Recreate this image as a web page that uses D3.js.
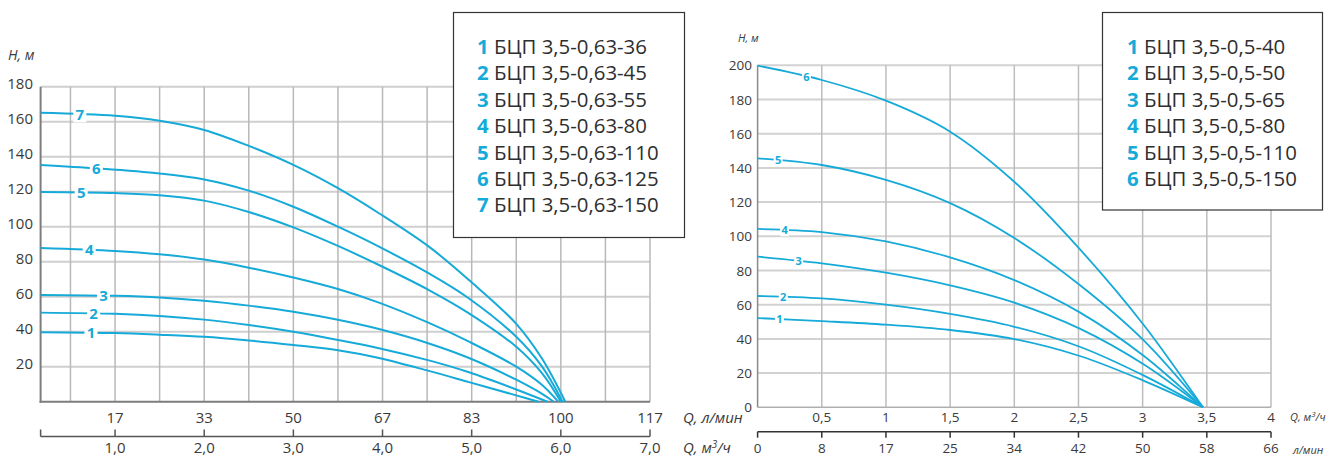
<!DOCTYPE html>
<html><head><meta charset="utf-8">
<script src="https://cdn.jsdelivr.net/npm/d3@7"></script>
<style>body{margin:0;background:#fff} svg{display:block} text{font-family:"Open Sans",sans-serif}</style>
</head><body><svg id="c" width="1335" height="457"></svg>
<script>
// ---------- LEFT CHART DATA ----------
const leftYTicks = [20, 40, 60, 80, 100, 120, 140, 160, 180];
const leftGridQ = [0.5, 1, 1.5, 2, 2.5, 3, 3.5, 4, 4.5, 5, 5.5, 6, 6.5, 7];
const leftMainTicks = [1, 2, 3, 4, 5, 6, 7];
const leftLminLabels = ["17", "33", "50", "67", "83", "100", "117"];
const leftM3Labels = ["1,0", "2,0", "3,0", "4,0", "5,0", "6,0", "7,0"];
const leftCurveNames = ["1", "2", "3", "4", "5", "6", "7"];
const leftLegendText = ["БЦП 3,5-0,63-36", "БЦП 3,5-0,63-45", "БЦП 3,5-0,63-55", "БЦП 3,5-0,63-80", "БЦП 3,5-0,63-110", "БЦП 3,5-0,63-125", "БЦП 3,5-0,63-150"];
const leftCurve1 = [[0.165,39.7],[1.0,39.2],[1.5,38.3],[2.0,37.1],[2.5,35],[3.0,32.4],[3.5,29.4],[3.96,25],[4.52,17.6],[4.97,11.2],[5.5,3.6],[5.75,0]];
const leftCurve2 = [[0.165,50.9],[1.0,50.2],[1.5,49],[2.0,46.9],[2.5,43.8],[3.0,40],[3.5,35.3],[3.96,30.6],[4.52,23.6],[4.97,16.8],[5.5,7],[5.85,0]];
const leftCurve3 = [[0.165,61],[1.0,60.5],[1.5,59.6],[2.0,57.7],[2.5,54.9],[3.0,51.4],[3.5,46.8],[3.96,41.5],[4.52,33.3],[4.97,25],[5.5,12.6],[5.79,4.5],[5.92,0]];
const leftCurve4 = [[0.165,87.8],[1.0,86.1],[1.5,84.2],[2.0,81.2],[2.5,76.6],[3.0,71],[3.5,64.4],[3.96,56.6],[4.52,45],[4.97,34.3],[5.5,20],[5.79,9.5],[5.97,0]];
const leftCurve5 = [[0.165,119.8],[1.0,119.2],[1.5,118],[2.0,114.9],[2.5,108.4],[3.0,99.6],[3.5,89],[3.96,78.1],[4.52,63.8],[4.97,50.5],[5.5,31.4],[5.79,16.2],[6.0,0]];
const leftCurve6 = [[0.165,135.3],[0.8,133.3],[1.5,130.4],[2.0,127],[2.5,120.6],[3.0,111.4],[3.5,100],[3.96,88.6],[4.52,73.3],[4.97,59],[5.5,37.1],[5.79,20],[6.02,0]];
const leftCurve7 = [[0.165,165.1],[1.0,163.4],[1.5,160.6],[2.0,155.3],[2.5,146.2],[3.0,135.3],[3.5,122],[3.96,107.7],[4.52,88.6],[4.97,69.5],[5.5,44.5],[5.79,24.5],[6.05,0]];
const leftCurves = [leftCurve1, leftCurve2, leftCurve3, leftCurve4, leftCurve5, leftCurve6, leftCurve7];
const leftLabelQ = [0.73, 0.76, 0.87, 0.71, 0.62, 0.79, 0.605];

// ---------- RIGHT CHART DATA ----------
const rightYTicks = [0, 20, 40, 60, 80, 100, 120, 140, 160, 180, 200];
const rightGridQ = [0.5, 1, 1.5, 2, 2.5, 3, 3.5, 4];
const rightTopLabels = ["0,5", "1", "1,5", "2", "2,5", "3", "3,5", "4"];
const rightBottomTicks = [0, 0.5, 1, 1.5, 2, 2.5, 3, 3.5, 4];
const rightLminLabels = ["0", "8", "17", "25", "34", "42", "50", "58", "66"];
const rightCurveNames = ["1", "2", "3", "4", "5", "6"];
const rightLegendText = ["БЦП 3,5-0,5-40", "БЦП 3,5-0,5-50", "БЦП 3,5-0,5-65", "БЦП 3,5-0,5-80", "БЦП 3,5-0,5-110", "БЦП 3,5-0,5-150"];
const rightCurve1 = [[0,52.2],[0.5,50.4],[1.0,48.3],[1.5,45.2],[2.0,39.9],[2.51,30],[3.01,15.5],[3.47,0]];
const rightCurve2 = [[0,65.1],[0.5,63.7],[1.0,60],[1.5,54.6],[2.0,47.1],[2.51,35.4],[3.01,18.5],[3.47,0]];
const rightCurve3 = [[0,88.1],[0.5,84.2],[1.0,78.7],[1.5,71.3],[2.0,61.2],[2.51,46],[3.01,25],[3.47,0]];
const rightCurve4 = [[0,104.3],[0.5,102.5],[1.0,97],[1.5,87.7],[2.0,74.4],[2.51,55.5],[3.01,30],[3.47,0]];
const rightCurve5 = [[0,145.6],[0.5,141.7],[1.0,133],[1.5,119.4],[2.0,99],[2.51,71.5],[3.01,39],[3.47,0]];
const rightCurve6 = [[0,199.8],[0.5,191.4],[1.0,179.3],[1.5,161.2],[2.0,131.9],[2.51,92.5],[3.01,48],[3.47,0]];
const rightCurves = [rightCurve1, rightCurve2, rightCurve3, rightCurve4, rightCurve5, rightCurve6];
const rightLabelQ = [0.17, 0.2, 0.32, 0.21, 0.16, 0.38];

// ---------- STYLE ----------
const CURVE = "#16aad8";
const TXT = "#3a3a3a";
const svg = d3.select("#c");

function hAt(curve, q) {
  for (let i = 0; i < curve.length - 1; i++) {
    const [q0, h0] = curve[i], [q1, h1] = curve[i + 1];
    if (q >= q0 && q <= q1) return h0 + (h1 - h0) * (q - q0) / (q1 - q0);
  }
  return curve[curve.length - 1][1];
}

// ================= LEFT =================
{
  const x = d3.scaleLinear().domain([0.165, 7]).range([40.6, 650]);
  const y = d3.scaleLinear().domain([0, 180]).range([401.7, 86.7]);
  const g = svg.append("g");
  g.selectAll(".hg").data(leftYTicks).join("line")
    .attr("x1", x(0.165)).attr("x2", x(7)).attr("y1", d => y(d)).attr("y2", d => y(d))
    .attr("stroke", "#cfcfcf").attr("stroke-width", 2);
  g.selectAll(".vg").data(leftGridQ).join("line")
    .attr("x1", d => x(d)).attr("x2", d => x(d)).attr("y1", y(0)).attr("y2", y(180))
    .attr("stroke", "#b8b8b8").attr("stroke-width", 1.5);
  g.append("line").attr("x1", x(0.165)).attr("x2", x(0.165)).attr("y1", y(180)).attr("y2", y(0) + 1)
    .attr("stroke", "#7d7d7d").attr("stroke-width", 2);
  g.append("line").attr("x1", x(0.165) - 1).attr("x2", x(7)).attr("y1", y(0)).attr("y2", y(0))
    .attr("stroke", "#7d7d7d").attr("stroke-width", 2);
  g.selectAll(".yl").data(leftYTicks).join("text")
    .attr("x", 33).attr("y", d => y(d) + 2).attr("text-anchor", "end")
    .attr("font-size", 15).attr("fill", TXT).text(d => d);
  g.append("text").attr("x", 8).attr("y", 60).attr("font-size", 14).attr("font-style", "italic")
    .attr("fill", TXT).text("H, м");
  g.selectAll(".xl").data(leftMainTicks).join("text")
    .attr("x", d => x(d)).attr("y", 423).attr("text-anchor", "middle")
    .attr("font-size", 15).attr("fill", TXT).text((d, i) => leftLminLabels[i]);
  g.append("text").attr("x", 683).attr("y", 423).attr("font-size", 15).attr("font-style", "italic")
    .attr("fill", TXT).text("Q, л/мин");
  const ay = 436.5;
  g.append("line").attr("x1", x(0.165)).attr("x2", x(7)).attr("y1", ay).attr("y2", ay)
    .attr("stroke", "#555").attr("stroke-width", 1.5);
  g.selectAll(".t2").data([0.165].concat(leftMainTicks)).join("line")
    .attr("x1", d => x(d)).attr("x2", d => x(d)).attr("y1", ay - 7).attr("y2", ay)
    .attr("stroke", "#555").attr("stroke-width", 1.5);
  g.selectAll(".xl2").data(leftMainTicks).join("text")
    .attr("x", d => x(d)).attr("y", 452.5).attr("text-anchor", "middle")
    .attr("font-size", 15).attr("fill", TXT).text((d, i) => leftM3Labels[i]);
  const tq = g.append("text").attr("x", 683).attr("y", 452.5).attr("font-size", 15).attr("font-style", "italic").attr("fill", TXT);
  tq.append("tspan").text("Q, м");
  tq.append("tspan").attr("dy", -5).attr("font-size", 10).text("3");
  tq.append("tspan").attr("dy", 5).text("/ч");
  const line = d3.line().x(d => x(d[0])).y(d => y(d[1])).curve(d3.curveCatmullRom.alpha(0.5));
  g.selectAll(".cv").data(leftCurves).join("path")
    .attr("d", line).attr("fill", "none").attr("stroke", CURVE).attr("stroke-width", 2);
  leftCurves.forEach((c, i) => {
    const q = leftLabelQ[i], cx = x(q), cy = y(hAt(c, q));
    g.append("rect").attr("x", cx - 6.5).attr("y", cy - 8).attr("width", 13).attr("height", 16).attr("fill", "#fff");
    g.append("text").attr("x", cx).attr("y", cy + 5.5).attr("text-anchor", "middle")
      .attr("font-size", 15).attr("font-weight", "bold").attr("fill", CURVE).text(leftCurveNames[i]);
  });
  g.append("rect").attr("x", 453.5).attr("y", 12.5).attr("width", 231).attr("height", 225)
    .attr("fill", "#fff").attr("stroke", "#333").attr("stroke-width", 1.2);
  leftLegendText.forEach((t, i) => {
    const yy = 54 + i * 26.4;
    g.append("text").attr("x", 477).attr("y", yy).attr("font-size", 20.4).attr("font-weight", "bold")
      .attr("fill", CURVE).text(leftCurveNames[i]);
    g.append("text").attr("x", 494).attr("y", yy).attr("font-size", 20.4).attr("fill", "#2e2e2e").text(t);
  });
}

// ================= RIGHT =================
{
  const x = d3.scaleLinear().domain([0, 4]).range([757.6, 1271]);
  const y = d3.scaleLinear().domain([0, 200]).range([407.3, 65.3]);
  const g = svg.append("g");
  g.selectAll(".hg").data(rightYTicks.filter(d => d > 0)).join("line")
    .attr("x1", x(0)).attr("x2", x(4)).attr("y1", d => y(d)).attr("y2", d => y(d))
    .attr("stroke", "#d2d2d2").attr("stroke-width", 2);
  g.selectAll(".vg").data(rightGridQ).join("line")
    .attr("x1", d => x(d)).attr("x2", d => x(d)).attr("y1", y(0)).attr("y2", y(200))
    .attr("stroke", "#bdbdbd").attr("stroke-width", 1.5);
  g.append("line").attr("x1", x(0)).attr("x2", x(4)).attr("y1", y(0)).attr("y2", y(0))
    .attr("stroke", "#b0b0b0").attr("stroke-width", 1.5);
  g.append("line").attr("x1", x(0)).attr("x2", x(0)).attr("y1", y(200)).attr("y2", y(0))
    .attr("stroke", "#8a8a8a").attr("stroke-width", 1.5);
  g.selectAll(".yl").data(rightYTicks).join("text")
    .attr("x", 752).attr("y", d => y(d) + 5).attr("text-anchor", "end")
    .attr("font-size", 13.5).attr("fill", TXT).text(d => d);
  g.append("text").attr("x", 738).attr("y", 42).attr("font-size", 11).attr("font-style", "italic")
    .attr("fill", TXT).text("H, м");
  g.selectAll(".xl").data(rightGridQ).join("text")
    .attr("x", d => x(d)).attr("y", 422).attr("text-anchor", "middle")
    .attr("font-size", 13.5).attr("fill", TXT).text((d, i) => rightTopLabels[i]);
  const tq = g.append("text").attr("x", 1290).attr("y", 421).attr("font-size", 11).attr("font-style", "italic").attr("fill", TXT);
  tq.append("tspan").text("Q, м");
  tq.append("tspan").attr("dy", -4).attr("font-size", 8).text("3");
  tq.append("tspan").attr("dy", 4).text("/ч");
  const ay = 431.7;
  g.append("line").attr("x1", x(0)).attr("x2", x(4)).attr("y1", ay).attr("y2", ay)
    .attr("stroke", "#333").attr("stroke-width", 1.5);
  g.selectAll(".t2").data(rightBottomTicks).join("line")
    .attr("x1", d => x(d)).attr("x2", d => x(d)).attr("y1", ay).attr("y2", ay + 6)
    .attr("stroke", "#333").attr("stroke-width", 1.5);
  g.selectAll(".xl2").data(rightBottomTicks).join("text")
    .attr("x", d => x(d)).attr("y", 453).attr("text-anchor", "middle")
    .attr("font-size", 13.5).attr("fill", TXT).text((d, i) => rightLminLabels[i]);
  g.append("text").attr("x", 1293).attr("y", 454).attr("font-size", 11).attr("font-style", "italic")
    .attr("fill", TXT).text("л/мин");
  const line = d3.line().x(d => x(d[0])).y(d => y(d[1])).curve(d3.curveCatmullRom.alpha(0.5));
  g.selectAll(".cv").data(rightCurves).join("path")
    .attr("d", line).attr("fill", "none").attr("stroke", CURVE).attr("stroke-width", 1.8);
  rightCurves.forEach((c, i) => {
    const q = rightLabelQ[i], cx = x(q), cy = y(hAt(c, q));
    g.append("rect").attr("x", cx - 4.5).attr("y", cy - 6).attr("width", 9).attr("height", 12).attr("fill", "#fff");
    g.append("text").attr("x", cx).attr("y", cy + 4).attr("text-anchor", "middle")
      .attr("font-size", 11).attr("font-weight", "bold").attr("fill", CURVE).text(rightCurveNames[i]);
  });
  g.append("rect").attr("x", 1102.5).attr("y", 12.5).attr("width", 220).attr("height", 197.5)
    .attr("fill", "#fff").attr("stroke", "#333").attr("stroke-width", 1.2);
  rightLegendText.forEach((t, i) => {
    const yy = 53.5 + i * 26.5;
    g.append("text").attr("x", 1127).attr("y", yy).attr("font-size", 20.4).attr("font-weight", "bold")
      .attr("fill", CURVE).text(rightCurveNames[i]);
    g.append("text").attr("x", 1144).attr("y", yy).attr("font-size", 20.4).attr("fill", "#2e2e2e").text(t);
  });
}
</script></body></html>
